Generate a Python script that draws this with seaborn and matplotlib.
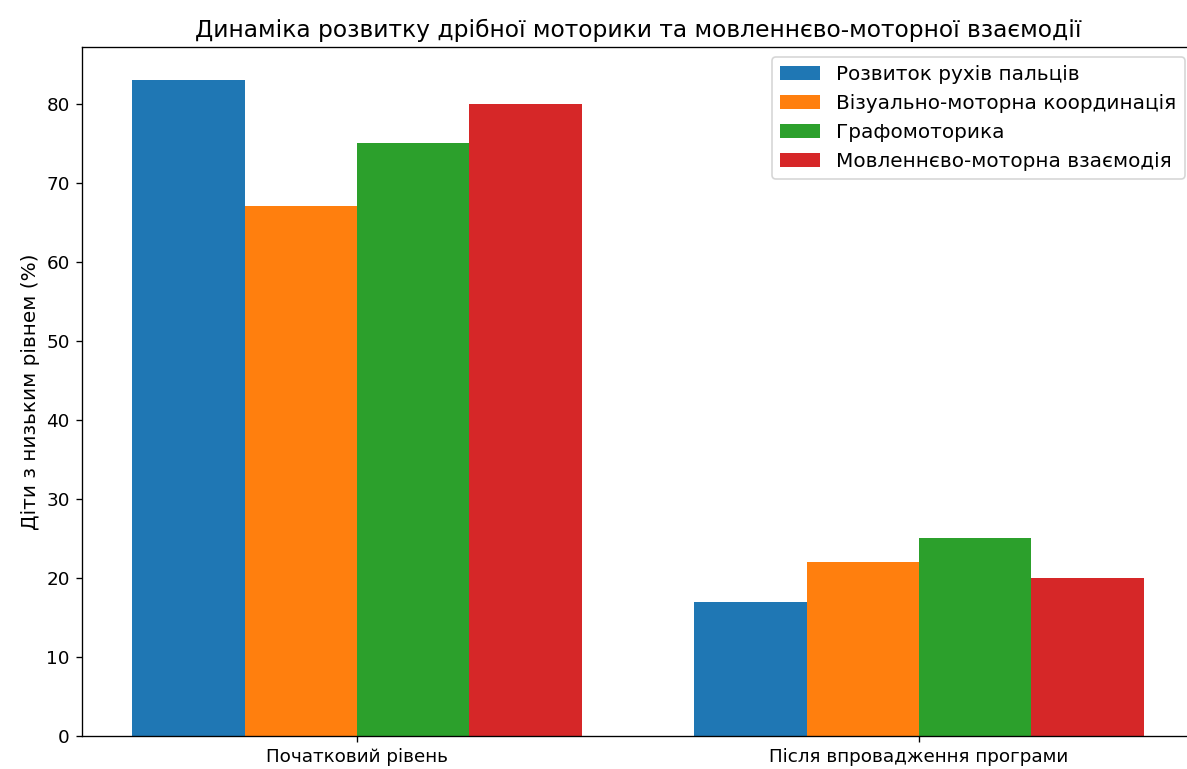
import pandas as pd
import matplotlib
matplotlib.use("Agg")
import matplotlib.pyplot as plt
import seaborn as sns

# Data
stages = ["Початковий рівень", "Після впровадження програми"]
skills = [
    "Розвиток рухів пальців",
    "Візуально-моторна координація",
    "Графомоторика",
    "Мовленнєво-моторна взаємодія",
]
initial_level = [83, 67, 75, 80]
after_program = [17, 22, 25, 20]
colors = ["#1f77b4", "#ff7f0e", "#2ca02c", "#d62728"]

rows = []
for stage, values in zip(stages, [initial_level, after_program]):
    for skill, v in zip(skills, values):
        rows.append({"stage": stage, "skill": skill, "value": v})
df = pd.DataFrame(rows)

plt.rcParams["font.family"] = ["DejaVu Sans"]

fig = plt.figure(figsize=(1187 / 120, 769 / 120), dpi=120)
ax = fig.add_axes([81.5 / 1187, 33 / 769, 1113 / 1187, 689 / 769])

sns.barplot(data=df, x="stage", y="value", hue="skill", hue_order=skills,
            palette=colors, saturation=1, linewidth=0, ax=ax)

ax.set_xlim(-0.49, 1.49)
ax.set_ylim(0, 87.15)
ax.set_xlabel("")
ax.set_ylabel("Діти з низьким рівнем (%)", fontsize=12)
ax.tick_params(labelsize=11)
ax.set_title("Динаміка розвитку дрібної моторики та мовленнєво-моторної взаємодії", fontsize=14)
ax.legend(loc="upper right", fontsize=12)

fig.savefig("out.png", dpi=120)
